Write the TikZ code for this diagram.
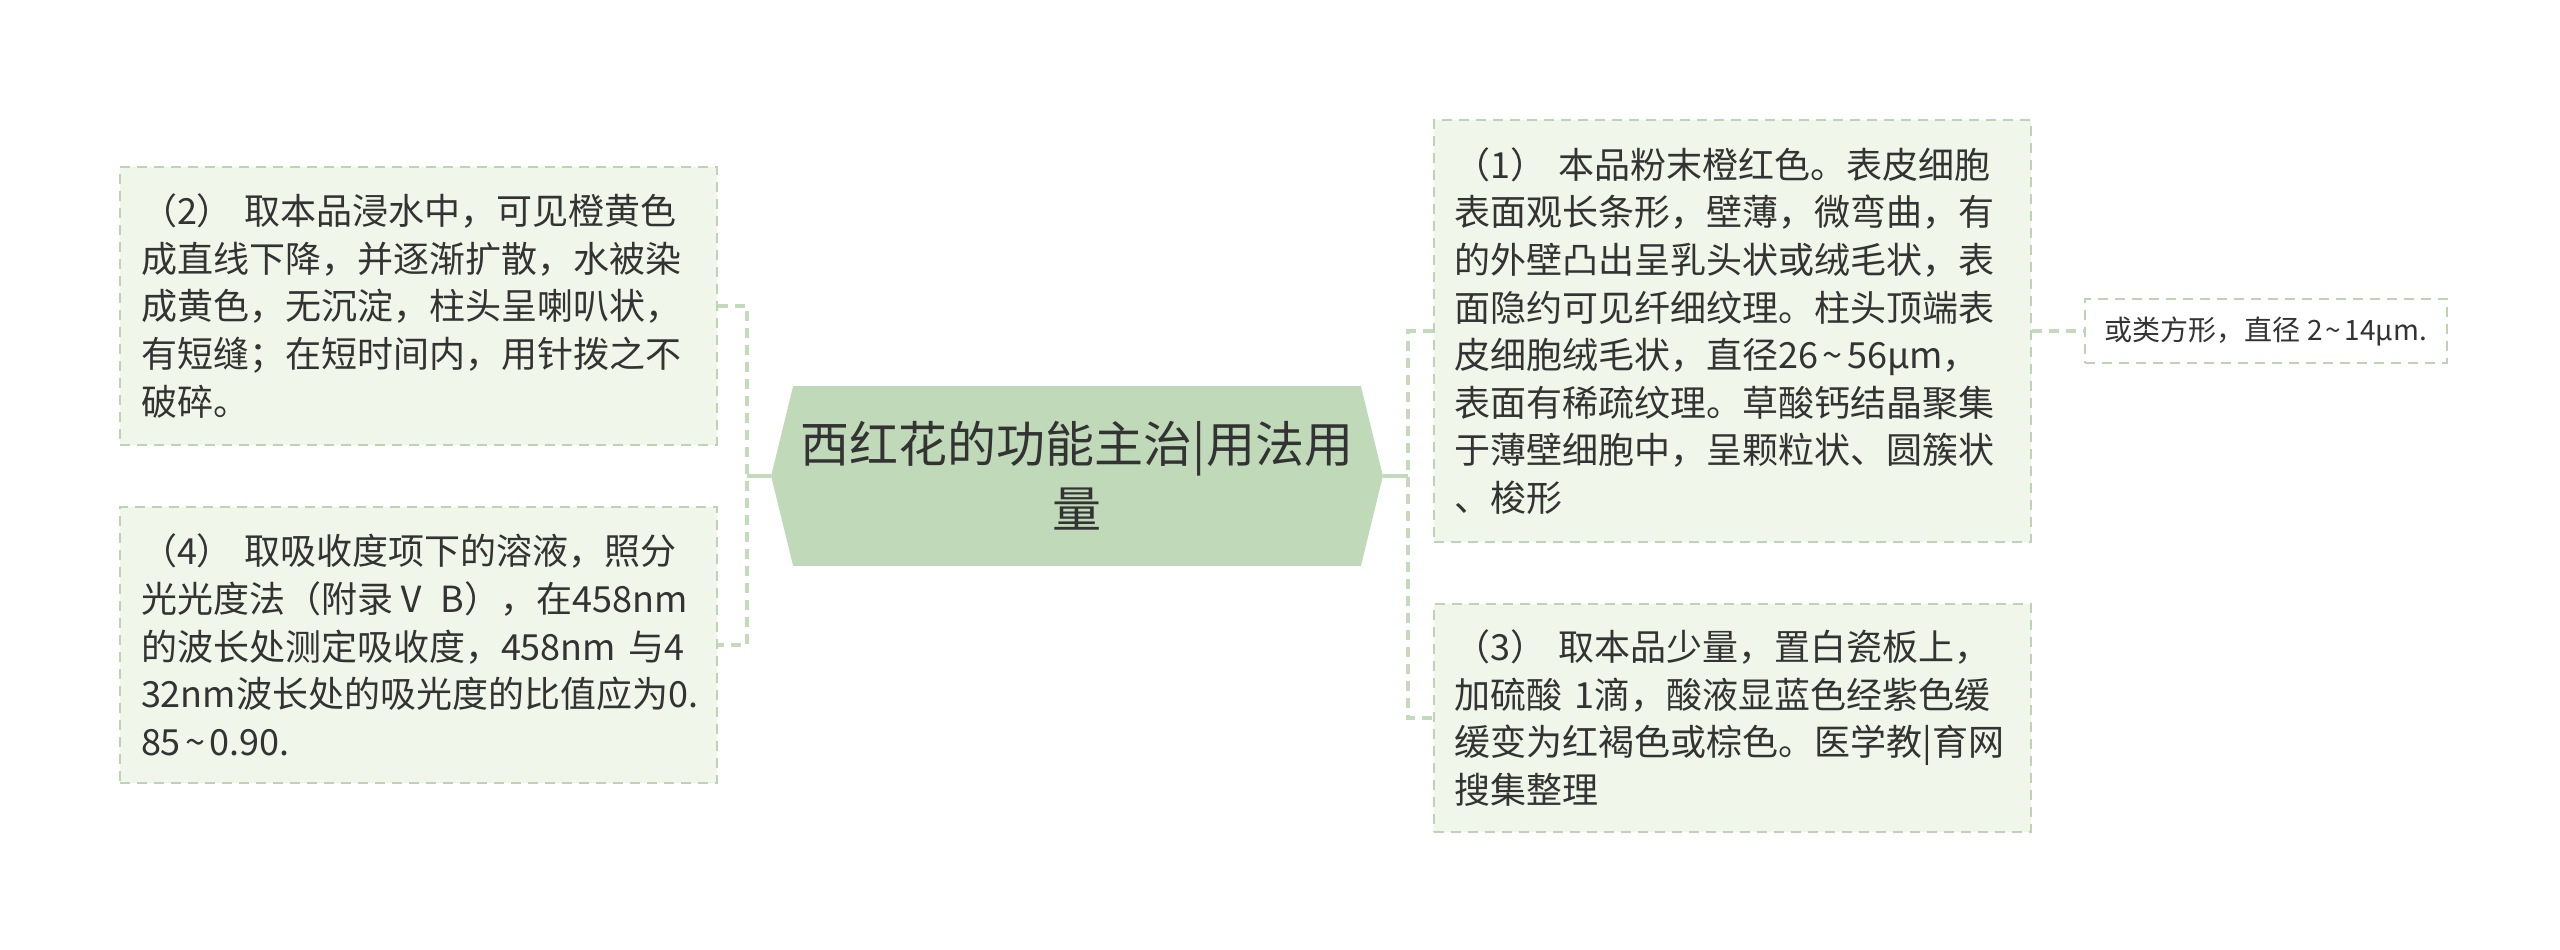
\documentclass[tikz,border=0pt]{standalone}
\usepackage{fontspec}
\setmainfont{Noto Sans CJK SC}
\usetikzlibrary{backgrounds}
\definecolor{boxfill}{HTML}{F0F6E9}
\definecolor{boxline}{HTML}{BCD4B4}
\definecolor{hexfill}{HTML}{BFD9B9}
\definecolor{txt}{HTML}{333333}
\definecolor{conncol}{HTML}{C3DABC}
\newcommand{\tld}{\kern0.12em\char"007E\kern0.12em}
\tikzset{
  leaf/.style={draw=boxline, fill=boxfill, line width=1pt, dash pattern=on 5pt off 3.5pt,
    text=txt, align=left, text width=277.5pt, inner xsep=10.5pt, inner ysep=0pt,
    minimum width=298.5pt, font=\fontsize{18pt}{23.8pt}\selectfont},
  smallleaf/.style={draw=boxline, fill=white, line width=1pt, dash pattern=on 5pt off 3.5pt,
    text=txt, align=center, inner sep=0pt, minimum width=181pt, minimum height=32pt,
    font=\fontsize{14pt}{17pt}\selectfont},
  hexnode/.style={text=txt, align=center, inner sep=0pt, minimum width=305.5pt, minimum height=89.5pt,
    font=\fontsize{24.5pt}{32.5pt}\selectfont},
  conn/.style={draw=conncol, line width=1.6pt},
  dconn/.style={draw=conncol, line width=1.6pt, dash pattern=on 5pt off 3.5pt},
}
\begin{document}
\begin{tikzpicture}[x=0.5pt, y=-0.5pt]
\useasboundingbox (0,0) rectangle (2560,949);
% central topic
\node[hexnode] (hex) at (1077,476) {西红花的功能主治|用法用\\量};
\begin{scope}[on background layer]
\fill[white] (0,0) rectangle (2560,949);
\fill[hexfill] (hex.west) -- ([xshift=11pt]hex.north west) -- ([xshift=-11pt]hex.north east)
  -- (hex.east) -- ([xshift=-11pt]hex.south east) -- ([xshift=11pt]hex.south west) -- cycle;
\end{scope}
% left leaves
\node[leaf, minimum height=139pt] (b2) at (418.5,306) {（2） 取本品浸水中，可见橙黄色\\成直线下降，并逐渐扩散，水被染\\成黄色，无沉淀，柱头呈喇叭状，\\有短缝；在短时间内，用针拨之不\\破碎。};
\node[leaf, minimum height=138pt] (b4) at (418.5,645) {（4） 取吸收度项下的溶液，照分\\光光度法（附录Ⅴ B），在458nm\\的波长处测定吸收度，458nm 与4\\32nm波长处的吸光度的比值应为0.\\85\tld 0.90.};
% right leaves
\node[leaf, minimum height=211pt] (b1) at (1732,331) {（1） 本品粉末橙红色。表皮细胞\\表面观长条形，壁薄，微弯曲，有\\的外壁凸出呈乳头状或绒毛状，表\\面隐约可见纤细纹理。柱头顶端表\\皮细胞绒毛状，直径26\tld 56μm，\\表面有稀疏纹理。草酸钙结晶聚集\\于薄壁细胞中，呈颗粒状、圆簇状\\、梭形};
\node[leaf, minimum height=114pt] (b3) at (1732,718) {（3） 取本品少量，置白瓷板上，\\加硫酸 1滴，酸液显蓝色经紫色缓\\缓变为红褐色或棕色。医学教|育网\\搜集整理};
\node[smallleaf] (s1) at (2266,331) {或类方形，直径 2\tld 14μm.};
% connectors
\coordinate (lx) at (747,476);
\coordinate (rx) at (1408,476);
\draw[conn] (hex.west) -- (lx);
\draw[dconn] (b2.east) -- (b2.east -| lx) -- (b4.east -| lx) -- (b4.east);
\draw[conn] (hex.east) -- (rx);
\draw[dconn] (b1.west) -- (b1.west -| rx) -- (b3.west -| rx) -- (b3.west);
\draw[dconn] (b1.east) -- (s1.west);
\end{tikzpicture}
\end{document}
